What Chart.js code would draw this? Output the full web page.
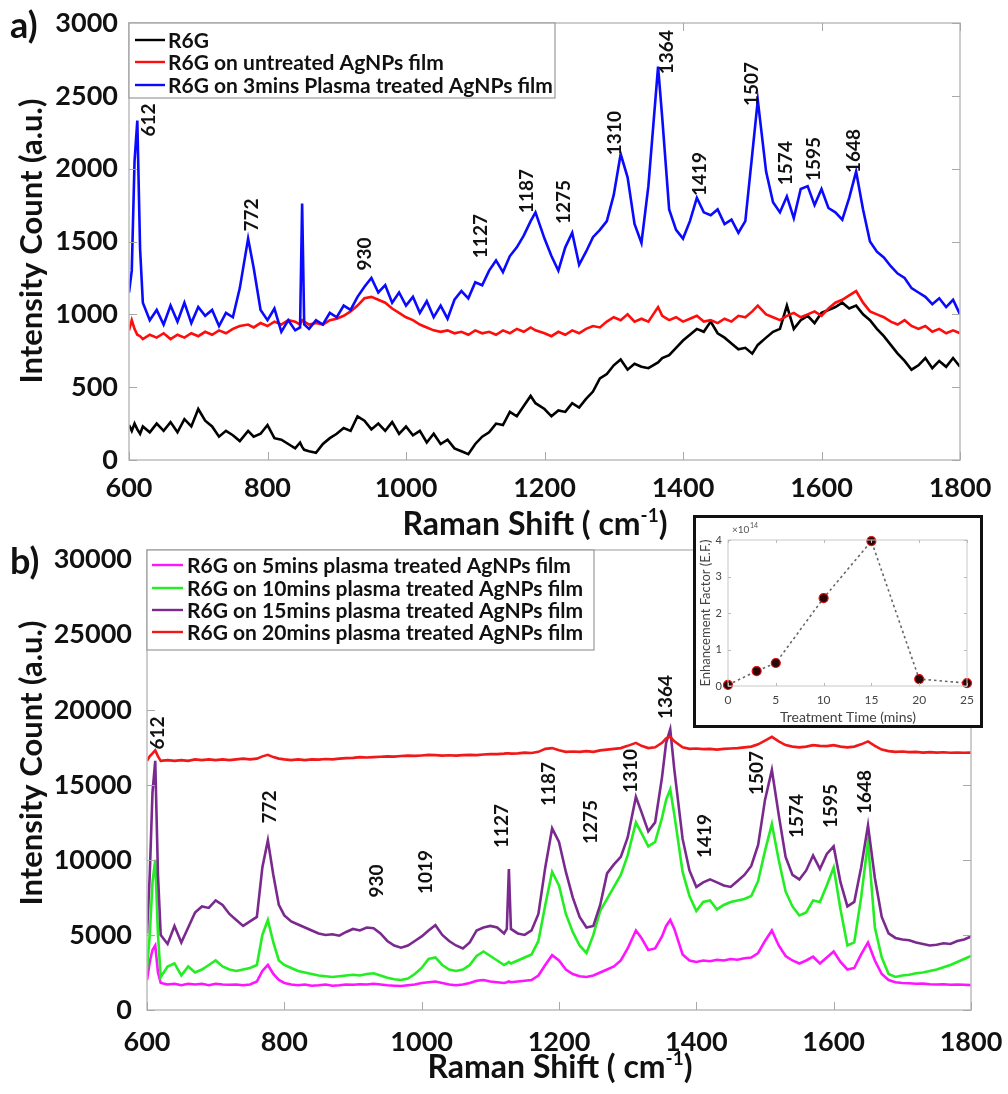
<!DOCTYPE html>
<html>
<head>
<meta charset="utf-8">
<script src="https://cdn.jsdelivr.net/npm/chart.js@4.4.1/dist/chart.umd.min.js"></script>
<style>
  html, body { margin: 0; padding: 0; background: #fff; }
  #page { position: relative; width: 1008px; height: 1094px; overflow: hidden; background: #fff; }
  #panelA { position: absolute; left: 0; top: 0; }
  #panelB { position: absolute; left: 0; top: 540px; }
  #insetBox { position: absolute; left: 693px; top: 515px; width: 290px; height: 213px;
              border: 3px solid #111; box-sizing: border-box; background: #fff; }
  #inset { display: block; }
</style>
</head>
<body>
<div id="page">
  <canvas id="panelA" width="1008" height="540"></canvas>
  <canvas id="panelB" width="1008" height="554"></canvas>
  <div id="insetBox"><canvas id="inset" width="284" height="207"></canvas></div>
</div>
<script>
// Panel a: Raman shift (cm-1) and intensity per sample
const shiftA = [
  600, 604, 608, 612, 616, 620, 630, 640, 650, 660,
  670, 680, 690, 700, 710, 720, 730, 740, 750, 760,
  772, 780, 790, 800, 810, 820, 830, 840, 847, 850,
  853, 860, 870, 880, 890, 900, 910, 920, 930, 940,
  950, 960, 970, 980, 990, 1000, 1010, 1020, 1030, 1040,
  1050, 1060, 1070, 1080, 1090, 1100, 1110, 1120, 1130, 1140,
  1150, 1160, 1170, 1180, 1187, 1200, 1210, 1220, 1230, 1240,
  1250, 1260, 1270, 1280, 1290, 1300, 1310, 1320, 1330, 1340,
  1350, 1364, 1370, 1380, 1390, 1400, 1410, 1420, 1430, 1440,
  1450, 1460, 1470, 1480, 1490, 1500, 1508, 1520, 1530, 1540,
  1550, 1560, 1570, 1580, 1590, 1600, 1610, 1620, 1630, 1640,
  1650, 1660, 1670, 1680, 1690, 1700, 1710, 1720, 1730, 1740,
  1750, 1760, 1770, 1780, 1790, 1800
];
const r6g = [
  240, 200, 250, 210, 180, 230, 190, 250, 200, 260,
  190, 280, 230, 350, 270, 230, 160, 200, 170, 130,
  200, 160, 180, 240, 150, 140, 110, 80, 120, 90,
  70, 60, 50, 110, 150, 180, 220, 200, 300, 270,
  210, 250, 200, 260, 180, 230, 170, 200, 120, 180,
  110, 140, 80, 60, 40, 110, 160, 190, 250, 240,
  330, 300, 370, 440, 390, 350, 300, 340, 330, 390,
  360, 420, 470, 560, 590, 650, 690, 620, 660, 640,
  630, 670, 700, 720, 770, 820, 860, 900, 880, 950,
  870, 840, 800, 760, 770, 730, 790, 840, 880, 900,
  1060, 900, 960, 990, 940, 1010, 1030, 1050, 1080, 1040,
  1060, 1000, 960, 900, 850, 790, 730, 680, 620, 650,
  700, 630, 680, 640, 700, 640
];
const untreated = [
  890, 960, 900, 860, 850, 830, 860, 840, 870, 830,
  860, 840, 870, 850, 880, 860, 890, 870, 900, 920,
  930, 910, 940, 920, 950, 930, 960, 950, 930, 960,
  950, 930, 940, 930, 960, 970, 990, 1020, 1060, 1110,
  1120, 1100, 1080, 1040, 1010, 980, 960, 930, 910, 890,
  880, 890, 870, 880, 860, 890, 870, 880, 860, 890,
  870, 900, 880, 910, 890, 870, 850, 880, 860, 890,
  870, 900, 920, 910, 950, 980, 960, 1000, 950, 970,
  950, 1050, 990, 960, 980, 950, 970, 990, 950, 960,
  940, 970, 950, 990, 980, 1020, 1060, 1000, 980, 960,
  990, 1010, 980, 1000, 1020, 990, 1040, 1080, 1100, 1130,
  1160, 1080, 1020, 1000, 980, 950, 930, 960, 920, 900,
  920, 880, 900, 870, 890, 870
];
const plasma3 = [
  1150, 1300, 2050, 2330, 1450, 1080, 960, 1030, 930, 1060,
  950, 1080, 940, 1050, 990, 1030, 920, 1010, 980, 1180,
  1520, 1320, 1030, 960, 1040, 880, 960, 890, 910, 1760,
  930, 900, 960, 930, 1010, 980, 1060, 1030, 1120, 1190,
  1250, 1150, 1200, 1080, 1150, 1060, 1120, 1010, 1090, 980,
  1060, 970, 1100, 1160, 1110, 1220, 1200, 1300, 1370, 1290,
  1400, 1460, 1540, 1640, 1700, 1520, 1400, 1300, 1460, 1560,
  1340, 1430, 1530, 1580, 1640, 1820, 2100, 1940, 1620, 1490,
  1880, 2700, 2350, 1720, 1580, 1520, 1640, 1800, 1700, 1680,
  1720, 1620, 1650, 1560, 1640, 2100, 2470, 1980, 1770, 1700,
  1810, 1660, 1860, 1880, 1750, 1860, 1730, 1700, 1650, 1800,
  1980, 1720, 1500, 1430, 1390, 1330, 1280, 1250, 1180, 1150,
  1120, 1070, 1110, 1050, 1100, 1000
];

// Panel b: spectra after 5, 10, 15 and 20 minutes of plasma
const shiftB = [
  600, 604, 608, 612, 616, 620, 630, 640, 650, 660,
  670, 680, 690, 700, 710, 720, 730, 740, 750, 760,
  768, 776, 784, 792, 800, 810, 820, 830, 840, 850,
  860, 870, 880, 890, 900, 910, 920, 930, 940, 950,
  960, 970, 980, 990, 1000, 1010, 1020, 1030, 1040, 1050,
  1060, 1070, 1080, 1090, 1100, 1110, 1120, 1124, 1127, 1130,
  1140, 1150, 1160, 1170, 1180, 1190, 1200, 1210, 1220, 1230,
  1240, 1250, 1260, 1270, 1280, 1290, 1300, 1312, 1320, 1330,
  1340, 1350, 1356, 1362, 1368, 1380, 1390, 1400, 1410, 1420,
  1430, 1440, 1450, 1460, 1470, 1480, 1490, 1500, 1510, 1520,
  1530, 1540, 1550, 1560, 1570, 1580, 1590, 1600, 1610, 1620,
  1630, 1640, 1650, 1660, 1670, 1680, 1690, 1700, 1710, 1720,
  1730, 1740, 1750, 1760, 1770, 1780, 1790, 1800
];
const plasma5 = [
  2000, 3200, 4000, 4300, 2500, 1800, 1700, 1750, 1650, 1750,
  1700, 1750, 1650, 1750, 1700, 1680, 1700, 1650, 1700, 1900,
  2600, 3000, 2400, 2000, 1800, 1700, 1650, 1700, 1620, 1650,
  1700, 1620, 1650, 1700, 1680, 1720, 1700, 1750, 1700, 1650,
  1620, 1600, 1650, 1700, 1800, 1850, 1900, 1800, 1700, 1650,
  1700, 1800, 1950, 2000, 1900, 1850, 1800, 1850, 1900, 1850,
  1900, 1950, 2000, 2300, 3000, 3650, 3300, 2700, 2400, 2250,
  2200, 2300, 2500, 2700, 2900, 3300, 4100, 5300, 4800, 4000,
  4100, 4900, 5600, 6000, 5400, 3700, 3300, 3200, 3300, 3250,
  3350, 3300, 3400, 3350, 3450, 3500, 3800, 4600, 5300, 4300,
  3600, 3300, 3100, 3300, 3550, 3100, 3500, 3900, 3200, 2700,
  2800, 3700, 4500, 3300, 2400, 2000, 1850, 1800, 1780, 1750,
  1760, 1720, 1700, 1720, 1680, 1700, 1680, 1660
];
const plasma10 = [
  2700, 5000, 8500, 10000, 5000, 2200, 2900, 3100, 2300, 2900,
  2500, 2700, 3000, 3300, 2900, 2700, 2600, 2700, 2800, 3000,
  5000, 6000, 4500, 3300, 3000, 2800, 2600, 2500, 2400, 2300,
  2250, 2200, 2250, 2300, 2350, 2300, 2400, 2450, 2300, 2150,
  2050, 2000, 2100, 2400, 2800, 3400, 3500, 3000, 2700, 2600,
  2700, 3000, 3600, 3900, 3600, 3300, 3000, 3100, 3200, 3100,
  3300, 3500, 3700, 4600, 7000, 9200, 8300, 6400, 5200, 4300,
  3800, 5000, 6600, 7400, 8200, 9000, 10300, 12500, 11800, 10900,
  11200, 12800, 14000, 14700, 13000, 9200, 7600, 6600, 7200, 7300,
  6700, 7000, 7200, 7300, 7400, 7600, 8600, 10600, 12400, 10000,
  7900, 6900, 6300, 6500, 7300, 7200, 8300, 9500, 6700, 4300,
  4500, 7500, 11200, 5500, 3500, 2400, 2200, 2300, 2350, 2450,
  2500, 2600, 2700, 2850, 3000, 3200, 3400, 3600
];
const plasma15 = [
  5100, 9000, 14500, 16600, 9000, 5000, 4400, 5600, 4500, 5500,
  6500, 6900, 6800, 7300, 7000, 6400, 6000, 5600, 5900, 6200,
  9500, 11300, 9000, 7000, 6300, 5900, 5700, 5500, 5300, 5100,
  5000, 5050, 4950, 5200, 5400, 5300, 5500, 5450, 5100, 4600,
  4300, 4150, 4300, 4600, 4900, 5300, 5650, 5000, 4600, 4300,
  4100, 4500, 5300, 5500, 5600, 5500, 5100, 5400, 9400, 5400,
  5100, 5000, 5300, 6400, 9500, 12100, 11200, 9200, 7500, 6200,
  5500, 5600, 7000, 9100, 9700, 10200, 11500, 14200, 13200, 11900,
  12500, 15500, 17800, 18700, 16000, 11400, 9300, 8200, 8500, 8700,
  8500, 8300, 8200, 8600, 9000, 9600, 11000, 14000, 16000, 13000,
  10200, 9000, 8700, 9300, 10300, 9400, 10400, 10900, 8500, 6900,
  7200, 9500, 12300, 8800, 6200, 5100, 4800, 4700, 4650, 4500,
  4400, 4300, 4350, 4450, 4400, 4600, 4700, 4900
];
const plasma20 = [
  16600, 16900, 17100, 17300, 16900, 16600, 16650, 16600, 16650, 16600,
  16700, 16650, 16700, 16650, 16700, 16650, 16700, 16750, 16700, 16750,
  16900, 17000, 16850, 16750, 16700, 16650, 16700, 16650, 16700, 16680,
  16720, 16700, 16750, 16780, 16800, 16850, 16820, 16850, 16870, 16900,
  16880, 16920, 16950, 16930, 16960, 17000, 16980, 16950, 16970, 16950,
  16980, 17000, 16980, 17020, 17050, 17050, 17080, 17100, 17100, 17080,
  17100, 17150, 17120, 17200, 17400, 17450, 17300, 17200, 17220, 17200,
  17250, 17200, 17300, 17350, 17400, 17450, 17600, 17800, 17600, 17450,
  17500, 17800, 18100, 18200, 17900, 17500, 17400, 17420, 17380, 17400,
  17350, 17400, 17420, 17450, 17500, 17550, 17700, 17950, 18200, 17900,
  17650, 17550, 17500, 17550, 17650, 17600, 17580, 17650, 17550, 17500,
  17550, 17700, 17900, 17600, 17350, 17250, 17200, 17220, 17180, 17200,
  17150, 17180, 17150, 17170, 17140, 17160, 17140, 17150
];

// Inset: enhancement factor (x 10^14) vs treatment time
const treatTime = [0, 3, 5, 10, 15, 20, 25];
const enhFactor = [0.03, 0.41, 0.63, 2.41, 3.97, 0.19, 0.08];

// Tick labels
const shiftTicks = [600, 800, 1000, 1200, 1400, 1600, 1800];
const countTicksA = [0, 500, 1000, 1500, 2000, 2500, 3000];
const countTicksB = [0, 5000, 10000, 15000, 20000, 25000, 30000];
const timeTicks = [0, 5, 10, 15, 20, 25];
const efTicks = [0, 1, 2, 3, 4];

// Peak labels: text, shift and intensity where each label sits
const peakTextA = ['612', '772', '930', '1127', '1187', '1275', '1310', '1364', '1419', '1507', '1574', '1595', '1648'];
const peakAtA = [629, 778, 941, 1108, 1175, 1228, 1302, 1376, 1425, 1500, 1549, 1589, 1647];
const peakLevelA = [2334, 1682, 1414, 1537, 1846, 1771, 2244, 2800, 1963, 2581, 2038, 2066, 2121];

const peakTextB = ['612', '772', '930', '1019', '1127', '1187', '1275', '1310', '1364', '1419', '1507', '1574', '1595', '1648'];
const peakAtB = [616, 779, 935, 1006, 1117, 1185, 1247, 1305, 1356, 1413, 1488, 1547, 1596, 1646];
const peakLevelB = [18457, 13526, 8595, 9195, 12260, 15058, 12526, 15925, 20855, 11594, 15791, 12926, 13593, 14525];

const FONT = 'Lato, "Open Sans", sans-serif';
const pairs = (xs, ys) => xs.map((x, i) => ({ x: x, y: ys[i] }));
const fixedTicks = (arr) => (scale) => { scale.ticks = arr.map(v => ({ value: v })); };

// Frame, inward ticks, legend, peak labels and titles
const decorPlugin = {
  id: 'decor',
  afterDraw(chart, args, o) {
    const ctx = chart.ctx;
    const { left, right, top, bottom } = chart.chartArea;
    const xs = chart.scales.x, ys = chart.scales.y;
    ctx.save();

    ctx.strokeStyle = o.frameColor;
    ctx.lineWidth = o.frameWidth;
    ctx.strokeRect(left, top, right - left, bottom - top);
    ctx.strokeStyle = o.tickColor;
    ctx.lineWidth = 1;
    ctx.beginPath();
    xs.ticks.forEach(t => {
      const px = Math.round(xs.getPixelForValue(t.value)) + 0.5;
      ctx.moveTo(px, bottom); ctx.lineTo(px, bottom - o.tickLen);
      ctx.moveTo(px, top); ctx.lineTo(px, top + o.tickLen);
    });
    ys.ticks.forEach(t => {
      const py = Math.round(ys.getPixelForValue(t.value)) + 0.5;
      ctx.moveTo(left, py); ctx.lineTo(left + o.tickLen, py);
      ctx.moveTo(right, py); ctx.lineTo(right - o.tickLen, py);
    });
    ctx.stroke();

    // legend box
    if (o.legend) {
      const L = o.legend;
      ctx.fillStyle = '#fff';
      ctx.fillRect(L.x, L.y, L.w, L.h);
      ctx.strokeStyle = '#9a9a9a';
      ctx.lineWidth = 1.2;
      ctx.strokeRect(L.x, L.y, L.w, L.h);
      ctx.font = L.font;
      ctx.textAlign = 'left';
      ctx.textBaseline = 'middle';
      chart.data.datasets.forEach((ds, i) => {
        const y = L.rows[i];
        ctx.strokeStyle = ds.borderColor;
        ctx.lineWidth = 2.4;
        ctx.beginPath();
        ctx.moveTo(L.lineFrom, y); ctx.lineTo(L.lineTo, y);
        ctx.stroke();
        ctx.fillStyle = '#111';
        ctx.fillText(ds.label, L.textX, y + 1);
      });
    }

    // rotated peak labels
    if (o.peaks) {
      const P = o.peaks;
      ctx.font = P.font;
      ctx.fillStyle = '#111';
      ctx.textAlign = 'center';
      ctx.textBaseline = 'middle';
      P.text.forEach((t, i) => {
        ctx.save();
        ctx.translate(xs.getPixelForValue(P.at[i]), ys.getPixelForValue(P.level[i]));
        ctx.rotate(-Math.PI / 2);
        ctx.fillText(t, 0, 0);
        ctx.restore();
      });
    }

    // x title with optional superscript
    if (o.xTitle) {
      const T = o.xTitle;
      const big = `${T.weight} ${T.size}px ${FONT}`;
      const small = `${T.weight} ${Math.round(T.size * 0.6)}px ${FONT}`;
      ctx.fillStyle = T.color;
      ctx.textAlign = 'left';
      ctx.textBaseline = 'middle';
      ctx.font = big;
      const w1 = ctx.measureText(T.text).width;
      const w3 = T.tail ? ctx.measureText(T.tail).width : 0;
      ctx.font = small;
      const w2 = T.sup ? ctx.measureText(T.sup).width : 0;
      let x = T.x - (w1 + w2 + w3) / 2;
      ctx.font = big; ctx.fillText(T.text, x, T.y); x += w1;
      if (T.sup) { ctx.font = small; ctx.fillText(T.sup, x, T.y - T.size * 0.3); x += w2; }
      if (T.tail) { ctx.font = big; ctx.fillText(T.tail, x, T.y); }
    }

    if (o.yTitle) {
      const T = o.yTitle;
      ctx.save();
      ctx.translate(T.x, T.y);
      ctx.rotate(-Math.PI / 2);
      ctx.font = `${T.weight} ${T.size}px ${FONT}`;
      ctx.fillStyle = T.color;
      ctx.textAlign = 'center';
      ctx.textBaseline = 'middle';
      ctx.fillText(T.text, 0, 0);
      ctx.restore();
    }

    if (o.letter) {
      ctx.font = `bold ${o.letter.size}px ${FONT}`;
      ctx.fillStyle = '#111';
      ctx.textAlign = 'left';
      ctx.textBaseline = 'middle';
      ctx.fillText(o.letter.text, o.letter.x, o.letter.y);
    }

    if (o.exponent) {
      const E = o.exponent;
      ctx.fillStyle = '#555';
      ctx.textAlign = 'left';
      ctx.textBaseline = 'middle';
      ctx.font = `10px ${FONT}`;
      ctx.fillText('\u00d710', E.x, E.y);
      const w = ctx.measureText('\u00d710').width;
      ctx.font = `7px ${FONT}`;
      ctx.fillText('14', E.x + w + 0.5, E.y - 4);
    }
    ctx.restore();
  }
};

// Spectrum panel with fixed plot area
function drawSpectrum(id, cfg) {
  const tickFont = { family: FONT, size: 27, weight: 'bold' };
  return new Chart(document.getElementById(id), {
    type: 'line',
    data: { datasets: cfg.datasets },
    plugins: [decorPlugin],
    options: {
      responsive: false,
      animation: false,
      events: [],
      layout: { padding: cfg.padding },
      elements: { point: { radius: 0 }, line: { tension: 0, borderWidth: cfg.lineWidth } },
      plugins: {
        legend: { display: false },
        tooltip: { enabled: false },
        decor: cfg.decor
      },
      scales: {
        x: {
          type: 'linear', min: 600, max: 1800,
          afterBuildTicks: fixedTicks(shiftTicks),
          afterFit: (s) => { s.height = cfg.xHeight; s.paddingLeft = 0; s.paddingRight = 0; },
          grid: { display: false, drawTicks: false }, border: { display: false },
          ticks: { color: '#111', font: tickFont, padding: cfg.xPad, maxRotation: 0, autoSkip: false, callback: (v) => String(v) }
        },
        y: {
          type: 'linear', min: 0, max: cfg.yMax,
          afterBuildTicks: fixedTicks(cfg.yTicks),
          afterFit: (s) => { s.width = cfg.yWidth; s.paddingTop = 0; s.paddingBottom = 0; },
          grid: { display: false, drawTicks: false }, border: { display: false },
          ticks: { color: '#111', font: tickFont, padding: cfg.yPad, autoSkip: false, callback: (v) => String(v) }
        }
      }
    }
  });
}

const frameStyle = { frameColor: '#bdbdbd', frameWidth: 1.5, tickColor: '#a8a8a8', tickLen: 8 };
const legendFont = `bold 21px ${FONT}`;
const peakFont = `bold 19px ${FONT}`;

drawSpectrum('panelA', {
  padding: { left: 0, right: 48, top: 23, bottom: 0 },
  xHeight: 80, yWidth: 129, xPad: 12, yPad: 11,
  yMax: 3000, yTicks: countTicksA, lineWidth: 2.6,
  datasets: [
    { label: 'R6G', data: pairs(shiftA, r6g), borderColor: '#000000', order: 3 },
    { label: 'R6G on untreated AgNPs film', data: pairs(shiftA, untreated), borderColor: '#ff0d0d', order: 2 },
    { label: 'R6G on 3mins Plasma treated AgNPs film', data: pairs(shiftA, plasma3), borderColor: '#0a0aff', order: 1 }
  ],
  decor: Object.assign({}, frameStyle, {
    legend: { x: 129, y: 23, w: 426, h: 75, rows: [40, 62, 85], lineFrom: 135, lineTo: 165, textX: 168, font: legendFont },
    peaks: { text: peakTextA, at: peakAtA, level: peakLevelA, font: peakFont },
    xTitle: { text: 'Raman Shift ( cm', sup: '-1', tail: ')', x: 535, y: 525, size: 32, weight: 'bold', color: '#111' },
    yTitle: { text: 'Intensity Count (a.u.)', x: 32, y: 241, size: 31, weight: 'bold', color: '#111' },
    letter: { text: 'a)', x: 10, y: 26, size: 36 }
  })
});

drawSpectrum('panelB', {
  padding: { left: 0, right: 37, top: 10, bottom: 0 },
  xHeight: 84, yWidth: 147, xPad: 16, yPad: 15,
  yMax: 30650, yTicks: countTicksB, lineWidth: 2.6,
  datasets: [
    { label: 'R6G on 5mins plasma treated AgNPs film', data: pairs(shiftB, plasma5), borderColor: '#ff14ff', order: 4 },
    { label: 'R6G on 10mins plasma treated AgNPs film', data: pairs(shiftB, plasma10), borderColor: '#22ee22', order: 3 },
    { label: 'R6G on 15mins plasma treated AgNPs film', data: pairs(shiftB, plasma15), borderColor: '#7a2a8e', order: 2 },
    { label: 'R6G on 20mins plasma treated AgNPs film', data: pairs(shiftB, plasma20), borderColor: '#f01818', order: 1 }
  ],
  decor: Object.assign({}, frameStyle, {
    legend: { x: 147, y: 10, w: 447, h: 100, rows: [25, 48, 70, 92], lineFrom: 152, lineTo: 183, textX: 187, font: legendFont },
    peaks: { text: peakTextB, at: peakAtB, level: peakLevelB, font: peakFont },
    xTitle: { text: 'Raman Shift ( cm', sup: '-1', tail: ')', x: 560, y: 528, size: 32, weight: 'bold', color: '#111' },
    yTitle: { text: 'Intensity Count (a.u.)', x: 32, y: 223, size: 31, weight: 'bold', color: '#111' },
    letter: { text: 'b)', x: 10, y: 22, size: 36 }
  })
});

// Inset: enhancement factor against treatment time
new Chart(document.getElementById('inset'), {
  type: 'line',
  data: {
    datasets: [{
      data: pairs(treatTime, enhFactor),
      borderColor: '#666',
      borderWidth: 1.6,
      borderDash: [2.5, 3],
      pointRadius: 4.5,
      pointBackgroundColor: '#2a0606',
      pointBorderColor: '#e01010',
      pointBorderWidth: 1.2,
      clip: false
    }]
  },
  plugins: [decorPlugin],
  options: {
    responsive: false,
    animation: false,
    events: [],
    layout: { padding: { left: 0, right: 13, top: 22, bottom: 0 } },
    elements: { line: { tension: 0 } },
    plugins: {
      legend: { display: false },
      tooltip: { enabled: false },
      decor: {
        frameColor: '#c8c8c8', frameWidth: 1, tickColor: '#bbb', tickLen: 3,
        xTitle: { text: 'Treatment Time (mins)', x: 152, y: 199, size: 14, weight: 'normal', color: '#444' },
        yTitle: { text: 'Enhancement Factor (E.F.)', x: 10, y: 95, size: 13, weight: 'normal', color: '#444' },
        exponent: { x: 36, y: 12 }
      }
    },
    scales: {
      x: {
        type: 'linear', min: 0, max: 25,
        afterBuildTicks: fixedTicks(timeTicks),
        afterFit: (s) => { s.height = 39; s.paddingLeft = 0; s.paddingRight = 0; },
        grid: { display: false, drawTicks: false }, border: { display: false },
        ticks: { color: '#444', font: { family: FONT, size: 12 }, padding: 7, maxRotation: 0, autoSkip: false }
      },
      y: {
        type: 'linear', min: 0, max: 4,
        afterBuildTicks: fixedTicks(efTicks),
        afterFit: (s) => { s.width = 32; s.paddingTop = 0; s.paddingBottom = 0; },
        grid: { display: false, drawTicks: false }, border: { display: false },
        ticks: { color: '#444', font: { family: FONT, size: 11 }, padding: 6, autoSkip: false }
      }
    }
  }
});
</script>
</body>
</html>
